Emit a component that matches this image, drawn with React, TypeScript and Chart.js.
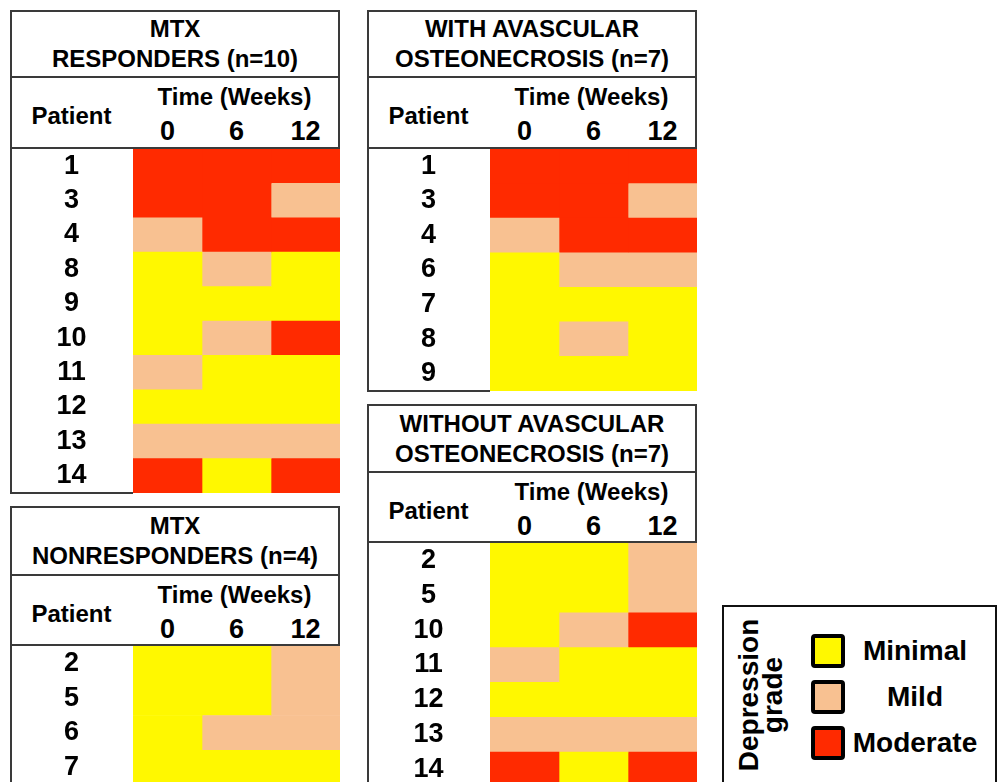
import React, { useEffect, useRef } from "react";
import { Chart, registerables } from "chart.js";

Chart.register(...registerables);

const FONT = '"Liberation Sans", Arial, sans-serif';

// Depression grades: 0 = Minimal, 1 = Mild, 2 = Moderate
const gradeNames = ["Minimal", "Mild", "Moderate"];
const gradeColors = ["#FFF800", "#F8C191", "#FF2A00"];
const weeks = ["0", "6", "12"];

// MTX responders
const respPatients = [1, 3, 4, 8, 9, 10, 11, 12, 13, 14];
const respWeek0 = [2, 2, 1, 0, 0, 0, 1, 0, 1, 2];
const respWeek6 = [2, 2, 2, 1, 0, 1, 0, 0, 1, 0];
const respWeek12 = [2, 1, 2, 0, 0, 2, 0, 0, 1, 2];

// MTX nonresponders
const nonPatients = [2, 5, 6, 7];
const nonWeek0 = [0, 0, 0, 0];
const nonWeek6 = [0, 0, 1, 0];
const nonWeek12 = [1, 1, 1, 0];

// With avascular osteonecrosis
const withPatients = [1, 3, 4, 6, 7, 8, 9];
const withWeek0 = [2, 2, 1, 0, 0, 0, 0];
const withWeek6 = [2, 2, 2, 1, 0, 1, 0];
const withWeek12 = [2, 1, 2, 1, 0, 0, 0];

// Without avascular osteonecrosis
const withoutPatients = [2, 5, 10, 11, 12, 13, 14];
const withoutWeek0 = [0, 0, 0, 1, 0, 1, 2];
const withoutWeek6 = [0, 0, 1, 0, 0, 1, 0];
const withoutWeek12 = [1, 1, 2, 0, 0, 1, 2];

const PANEL_W = 330;
const LABEL_W = 123;
const BORDER = "2px solid #3a3a3a";
const NUM_SIZE = 27;

function Txt(props: { x: number; y: number; size: number; children: any }) {
  return (
    <div
      style={{
        position: "absolute",
        left: props.x,
        top: props.y,
        transform: "translate(-50%,-50%)",
        whiteSpace: "nowrap",
        lineHeight: 1,
        fontSize: props.size,
        fontWeight: "bold",
        fontFamily: FONT,
        color: "#000",
      }}
    >
      {props.children}
    </div>
  );
}

function Grid(props: { patients: number[]; grades: number[][]; rowH: number }) {
  const ref = useRef<HTMLCanvasElement | null>(null);
  const h = Math.round(props.patients.length * props.rowH);
  useEffect(() => {
    const canvas = ref.current!;
    const labels = props.patients.map(String);
    const mc = document.createElement("canvas").getContext("2d")!;
    mc.font = `bold ${NUM_SIZE}px ${FONT}`;
    const widest = Math.max(...labels.map((l) => mc.measureText(l).width));
    const pad = LABEL_W / 2 - widest / 2;
    const chart = new Chart(canvas, {
      type: "bar",
      data: {
        labels,
        datasets: weeks.map((w, j) => ({
          label: w,
          data: props.patients.map(() => 1),
          backgroundColor: props.grades[j].map((g) => gradeColors[g]),
          borderWidth: 0,
          barPercentage: 1,
          categoryPercentage: 1,
        })),
      },
      options: {
        indexAxis: "y",
        animation: false,
        responsive: false,
        devicePixelRatio: 1,
        layout: { padding: 0 },
        plugins: { legend: { display: false }, tooltip: { enabled: false } },
        scales: {
          x: { stacked: true, min: 0, max: 3, display: false },
          y: {
            stacked: true,
            grid: { display: false, drawTicks: false },
            border: { display: false },
            ticks: {
              autoSkip: false,
              color: "#000",
              font: { size: NUM_SIZE, weight: "bold", family: FONT },
              crossAlign: "center",
              padding: pad,
            },
            afterFit: (s: any) => {
              s.width = LABEL_W;
              s.paddingTop = 0;
              s.paddingBottom = 0;
              s.paddingLeft = 0;
              s.paddingRight = 0;
            },
          },
        },
      } as any,
    });
    return () => chart.destroy();
  }, []);
  return (
    <canvas
      ref={ref}
      width={PANEL_W}
      height={h}
      style={{ position: "absolute", left: 0, top: 0, width: PANEL_W, height: h }}
    />
  );
}

function Panel(props: {
  left: number;
  top: number;
  titleH: number;
  headerH: number;
  rowH: number;
  title: string[];
  patients: number[];
  grades: number[][];
}) {
  const { titleH, headerH, rowH } = props;
  const gridTop = titleH + headerH;
  const gridH = props.patients.length * rowH;
  const colW = (PANEL_W - LABEL_W) / 3;
  return (
    <div style={{ position: "absolute", left: props.left, top: props.top, width: PANEL_W }}>
      <div
        style={{
          position: "absolute",
          left: 0,
          top: 0,
          width: PANEL_W,
          height: titleH,
          border: BORDER,
          boxSizing: "border-box",
          background: "#fff",
        }}
      />
      <div
        style={{
          position: "absolute",
          left: 0,
          top: titleH - 2,
          width: PANEL_W,
          height: headerH + 2,
          border: BORDER,
          boxSizing: "border-box",
          background: "#fff",
        }}
      />
      <Txt x={PANEL_W / 2} y={titleH / 2 - 15} size={24}>
        {props.title[0]}
      </Txt>
      <Txt x={PANEL_W / 2} y={titleH / 2 + 15} size={24}>
        {props.title[1]}
      </Txt>
      <Txt x={LABEL_W / 2} y={titleH + 38} size={24}>
        Patient
      </Txt>
      <Txt x={LABEL_W + (PANEL_W - LABEL_W) / 2 - 2} y={titleH + 19} size={24}>
        Time (Weeks)
      </Txt>
      {weeks.map((w, i) => (
        <Txt key={w} x={LABEL_W + colW / 2 + i * colW} y={titleH + 53} size={NUM_SIZE}>
          {w}
        </Txt>
      ))}
      <div style={{ position: "absolute", left: 0, top: gridTop, width: PANEL_W, height: gridH }}>
        <div
          style={{
            position: "absolute",
            left: 0,
            top: 0,
            width: LABEL_W,
            height: gridH + 1,
            borderLeft: BORDER,
            borderBottom: BORDER,
            boxSizing: "border-box",
          }}
        />
        <Grid patients={props.patients} grades={props.grades} rowH={rowH} />
      </div>
    </div>
  );
}

function Legend() {
  const tops = [634, 680, 726];
  return (
    <>
      <div
        style={{
          position: "absolute",
          left: 722,
          top: 605,
          width: 275,
          height: 220,
          border: "2px solid #111",
          boxSizing: "border-box",
        }}
      />
      <div
        style={{
          position: "absolute",
          left: 761,
          top: 695,
          width: 170,
          transform: "translate(-50%,-50%) rotate(-90deg)",
          textAlign: "center",
          fontFamily: FONT,
          fontWeight: "bold",
          fontSize: 28,
          lineHeight: "24px",
          color: "#000",
        }}
      >
        Depression
        <br />
        grade
      </div>
      {gradeNames.map((name, i) => (
        <React.Fragment key={name}>
          <div
            style={{
              position: "absolute",
              left: 811,
              top: tops[i],
              width: 34,
              height: 34,
              border: "4px solid #000",
              borderRadius: 4,
              boxSizing: "border-box",
              background: gradeColors[i],
            }}
          />
          <Txt x={915} y={tops[i] + 17} size={28}>
            {name}
          </Txt>
        </React.Fragment>
      ))}
    </>
  );
}

export default function App() {
  return (
    <div
      style={{
        position: "absolute",
        left: 0,
        top: 0,
        width: 998,
        height: 782,
        overflow: "hidden",
        background: "#fff",
      }}
    >
      <Panel
        left={10}
        top={10}
        titleH={68}
        headerH={71}
        rowH={34.4}
        title={["MTX", "RESPONDERS (n=10)"]}
        patients={respPatients}
        grades={[respWeek0, respWeek6, respWeek12]}
      />
      <Panel
        left={10}
        top={506}
        titleH={70}
        headerH={70}
        rowH={34.7}
        title={["MTX", "NONRESPONDERS (n=4)"]}
        patients={nonPatients}
        grades={[nonWeek0, nonWeek6, nonWeek12]}
      />
      <Panel
        left={367}
        top={10}
        titleH={68}
        headerH={71}
        rowH={34.6}
        title={["WITH AVASCULAR", "OSTEONECROSIS (n=7)"]}
        patients={withPatients}
        grades={[withWeek0, withWeek6, withWeek12]}
      />
      <Panel
        left={367}
        top={404}
        titleH={69}
        headerH={70}
        rowH={34.8}
        title={["WITHOUT AVASCULAR", "OSTEONECROSIS (n=7)"]}
        patients={withoutPatients}
        grades={[withoutWeek0, withoutWeek6, withoutWeek12]}
      />
      <Legend />
    </div>
  );
}
